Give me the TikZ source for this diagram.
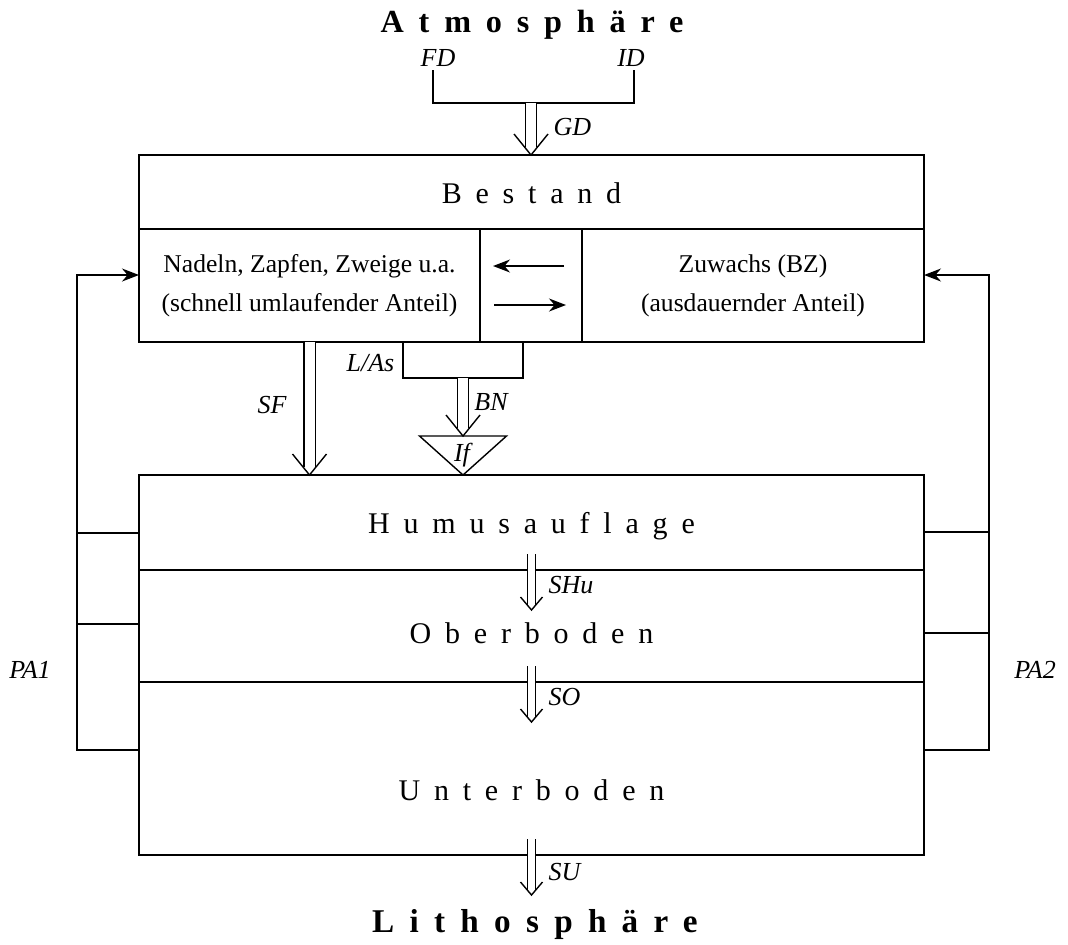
\documentclass[tikz,border=0pt]{standalone}
\usepackage{fontspec}
\setmainfont{Liberation Serif}
\newfontfamily\spacedfont[LetterSpace=46,Ligatures=NoCommon]{Liberation Serif}
\usetikzlibrary{arrows.meta, positioning, calc}

\begin{document}
\begin{tikzpicture}[x=0.5pt, y=-0.5pt, line width=0.7pt,
  box/.style={draw, rectangle, inner sep=0pt, outer sep=0pt},
  layer/.style={font=\spacedfont\fontsize{15pt}{18pt}\selectfont, anchor=base, inner sep=0pt},
  sphere/.style={font=\spacedfont\bfseries\fontsize{16.1pt}{20pt}\selectfont, anchor=base, inner sep=0pt},
  txt/.style={align=center, font=\fontsize{12.8pt}{19.5pt}\selectfont},
  lbl/.style={font=\fontsize{13pt}{15pt}\selectfont\itshape, inner sep=1.5pt},
  bigflow/.style={double, double distance=5pt, shorten >=3.8pt},
  smallflow/.style={double, double distance=3.3pt, shorten >=2.5pt},
  bighead/.pic={\draw[line join=miter] (-8.5pt,10.5pt) -- (0,0) -- (8.5pt,10.5pt);},
  smallhead/.pic={\draw[line join=miter] (-5.5pt,6.5pt) -- (0,0) -- (5.5pt,6.5pt);},
  arr/.style={-{Stealth[length=8.5pt, width=6.5pt]}}
]
  \useasboundingbox (0,0) rectangle (1068,944);

  % Atmosphaere and input
  \node[sphere] (atm) at (532,32) {Atmosphäre};
  \node[lbl] (fd) at (438,58) {FD};
  \node[lbl] (id) at (631,58) {ID};
  \coordinate (fdfoot) at (433,103);
  \coordinate (idfoot) at (634,103);
  \coordinate (gdtop) at (531,103);
  \draw (fdfoot |- fd.south) -- (fdfoot) -- (idfoot) -- (idfoot |- id.south);

  % Bestand
  \node[box, minimum width=392.5pt, minimum height=93.5pt] (bestand) at (531.5,248.5) {};
  \node[layer] (bestandtitle) at (531.5,203) {Bestand};
  \node[box, txt, minimum width=170.5pt, minimum height=56.5pt] (nadeln) at (309.5,285.5)
    {Nadeln, Zapfen, Zweige u.a.\\(schnell umlaufender Anteil)};
  \node[box, txt, minimum width=171pt, minimum height=56.5pt] (zuwachs) at (753,285.5)
    {Zuwachs (BZ)\\(ausdauernder Anteil)};
  \draw (bestand.west |- nadeln.north) -- (bestand.east |- nadeln.north);
  \draw[arr, shorten <=9pt, shorten >=6.5pt] ([yshift=9.75pt]zuwachs.west) -- ([yshift=9.75pt]nadeln.east);
  \draw[arr, shorten <=7pt, shorten >=8pt] ([yshift=-9.75pt]nadeln.east) -- ([yshift=-9.75pt]zuwachs.west);

  \draw[bigflow] (gdtop) -- (gdtop |- bestand.north);
  \pic at (gdtop |- bestand.north) {bighead};
  \node[lbl, anchor=west] (gd) at (550,127) {GD};

  % Streufall und Bestandesniederschlag
  \node[box, minimum width=60pt, minimum height=18pt] (las) at (463,360) {};
  \node[lbl, left=2.5pt of las.west, yshift=-1.5pt] (laslbl) {L/As};

  % Boden
  \node[box, minimum width=392.5pt, minimum height=47.5pt] (humus) at (531.5,522.5) {};
  \node[box, minimum width=392.5pt, minimum height=56pt] (ober) at (531.5,626) {};
  \node[box, minimum width=392.5pt, minimum height=86.5pt] (unter) at (531.5,768.5) {};
  \node[layer] (humustitle) at (531.5,533) {Humusauflage};
  \node[layer] (obertitle) at (531.5,643) {Oberboden};
  \node[layer] (untertitle) at (531.5,800) {Unterboden};

  \draw[bigflow] (nadeln.south) -- (nadeln.south |- humus.north);
  \pic at (nadeln.south |- humus.north) {bighead};
  \node[lbl] (sf) at (272,405) {SF};

  \coordinate (ifapex) at (las.south |- humus.north);
  \coordinate (iftop) at ($(ifapex)+(0,-39)$);
  \draw[line join=miter] (ifapex) -- ++(-43.5,-39) -- ++(87,0) -- cycle;
  \draw[bigflow] (las.south) -- (iftop);
  \pic at (iftop) {bighead};
  \node[lbl] (bn) at (491,402) {BN};
  \node[lbl] (iflbl) at (462,455) {If};

  % Sickerung
  \draw[smallflow] ([yshift=8pt]ober.north) -- ([yshift=-20pt]ober.north);
  \pic at ([yshift=-20pt]ober.north) {smallhead};
  \node[lbl, anchor=west] (shu) at (545,585) {SHu};
  \draw[smallflow] ([yshift=8pt]unter.north) -- ([yshift=-20pt]unter.north);
  \pic at ([yshift=-20pt]unter.north) {smallhead};
  \node[lbl, anchor=west] (so) at (545,697) {SO};
  \draw[smallflow] ([yshift=8pt]unter.south) -- ([yshift=-20pt]unter.south);
  \pic at ([yshift=-20pt]unter.south) {smallhead};
  \node[lbl, anchor=west] (su) at (545,872) {SU};

  \node[sphere, font=\spacedfont\bfseries\fontsize{16.6pt}{20pt}\selectfont] (lith) at (535,932) {Lithosphäre};

  % Pflanzenaufnahme
  \coordinate (pa1top) at (77,275);
  \coordinate (pa2top) at (989,275);
  \draw[arr] (unter.west |- 0,750) -| (pa1top) -- (nadeln.west |- pa1top);
  \draw (humus.west |- 0,533) -- (pa1top |- 0,533);
  \draw (ober.west |- 0,624) -- (pa1top |- 0,624);
  \draw[arr] (unter.east |- 0,750) -| (pa2top) -- (zuwachs.east |- pa2top);
  \draw (humus.east |- 0,532) -- (pa2top |- 0,532);
  \draw (ober.east |- 0,633) -- (pa2top |- 0,633);
  \node[lbl] (pa1) at (30,670) {PA1};
  \node[lbl] (pa2) at (1035,670) {PA2};
\end{tikzpicture}
\end{document}
